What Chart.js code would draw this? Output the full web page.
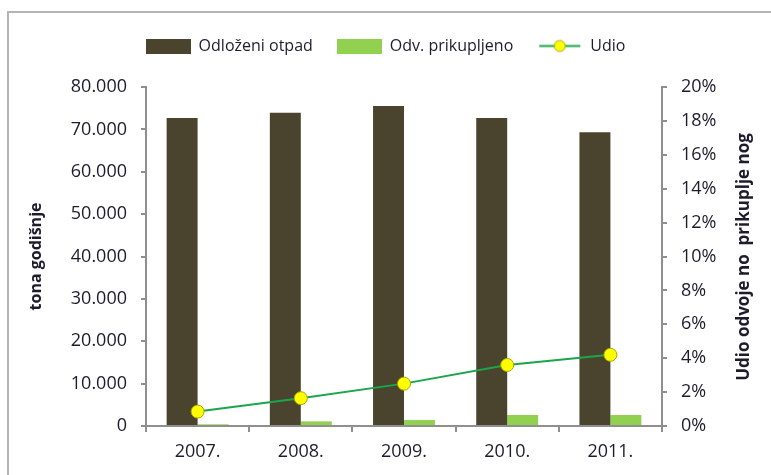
<!DOCTYPE html>
<html>
<head>
<meta charset="utf-8">
<script src="https://cdn.jsdelivr.net/npm/chart.js@4.4.1/dist/chart.umd.min.js"></script>
<style>
  body { margin: 0; background: #fff; }
  canvas { display: block; }
</style>
</head>
<body>
<canvas id="graf" width="771" height="475"></canvas>
<script>
var godine      = ["2007.", "2008.", "2009.", "2010.", "2011."];
var odlozeni    = [72700, 73900, 75500, 72700, 69300];
var prikupljeno = [400, 1100, 1400, 2600, 2600];
var udio        = [0.85, 1.64, 2.5, 3.6, 4.2];

var tamna   = "#4a432d";
var zelena  = "#92d050";
var linija  = "#1aa64a";
var zuta    = "#ffff00";
var tekst   = "#1c1c2c";
var siva    = "#8f8f8f";
var font    = "'Open Sans', sans-serif";

function ikona(crtaj) {
  var c = document.createElement("canvas");
  c.width = 45;
  c.height = 15;
  crtaj(c.getContext("2d"));
  return c;
}

var ikone = [
  ikona(function(ctx) { ctx.fillStyle = tamna; ctx.fillRect(0, 0, 45, 15); }),
  ikona(function(ctx) { ctx.fillStyle = zelena; ctx.fillRect(0, 0, 45, 15); }),
  ikona(function(ctx) {
    ctx.strokeStyle = linija;
    ctx.lineWidth = 2;
    ctx.beginPath(); ctx.moveTo(2, 7.5); ctx.lineTo(43, 7.5); ctx.stroke();
    ctx.fillStyle = zuta;
    ctx.strokeStyle = "#a8a800";
    ctx.lineWidth = 1;
    ctx.beginPath(); ctx.arc(22.5, 7.5, 5.5, 0, Math.PI * 2); ctx.fill(); ctx.stroke();
  })
];

function tisuce(v) {
  if (v === 0) return "0";
  return Math.floor(v / 1000) + ".000";
}

var okvir = {
  id: "okvir",
  beforeDraw: function(chart) {
    var ctx = chart.ctx;
    ctx.save();
    ctx.fillStyle = "#fff";
    ctx.fillRect(0, 0, chart.width, chart.height);
    ctx.strokeStyle = "#b4b4b4";
    ctx.lineWidth = 2;
    ctx.beginPath();
    ctx.moveTo(8, chart.height);
    ctx.lineTo(8, 12);
    ctx.lineTo(chart.width, 12);
    ctx.stroke();
    ctx.restore();
  },
  afterDraw: function(chart) {
    // desni naslov ide odozdo prema gore, kao lijevi
    var ctx = chart.ctx;
    ctx.save();
    ctx.translate(744, 257);
    ctx.rotate(-Math.PI / 2);
    ctx.font = "bold 17px " + font;
    ctx.fillStyle = tekst;
    ctx.textAlign = "center";
    ctx.textBaseline = "middle";
    ctx.fillText("Udio odvoje no  prikuplje nog", 0, 0);
    ctx.restore();
  }
};

var legendaVisina = {
  id: "legendaVisina",
  afterInit: function(chart) {
    var fit = chart.legend.fit;
    chart.legend.fit = function() {
      fit.call(this);
      this.height = 73;
    };
  }
};

new Chart(document.getElementById("graf"), {
  type: "bar",
  data: {
    labels: godine,
    datasets: [
      {
        label: "Odloženi otpad",
        data: odlozeni,
        backgroundColor: tamna,
        yAxisID: "y",
        order: 2,
        categoryPercentage: 0.6,
        barPercentage: 1
      },
      {
        label: "Odv. prikupljeno",
        data: prikupljeno,
        backgroundColor: zelena,
        yAxisID: "y",
        order: 2,
        categoryPercentage: 0.6,
        barPercentage: 1
      },
      {
        label: "Udio",
        type: "line",
        data: udio,
        yAxisID: "y1",
        order: 1,
        borderColor: linija,
        borderWidth: 2,
        pointRadius: 6.5,
        pointBackgroundColor: zuta,
        pointBorderColor: "#a8a800",
        pointBorderWidth: 1
      }
    ]
  },
  options: {
    responsive: false,
    devicePixelRatio: 1,
    animation: false,
    layout: { padding: { top: 14, left: 0, right: 0, bottom: 0 } },
    plugins: {
      tooltip: { enabled: false },
      legend: {
        position: "top",
        labels: {
          usePointStyle: true,
          pointStyleWidth: 45,
          boxHeight: 15,
          padding: 24,
          color: tekst,
          font: { family: font, size: 16 },
          sort: function(a, b) { return a.datasetIndex - b.datasetIndex; },
          generateLabels: function(chart) {
            var stavke = Chart.defaults.plugins.legend.labels.generateLabels(chart);
            stavke.forEach(function(s) { s.pointStyle = ikone[s.datasetIndex]; });
            return stavke;
          }
        }
      }
    },
    scales: {
      x: {
        offset: true,
        grid: { display: true, drawOnChartArea: false, offset: true, tickLength: 6, color: siva, lineWidth: 2 },
        border: { display: true, color: siva, width: 2 },
        ticks: { color: tekst, font: { family: font, size: 18 }, padding: 9 },
        afterFit: function(s) { s.height = 49; }
      },
      y: {
        position: "left",
        min: 0,
        max: 80000,
        ticks: { stepSize: 10000, color: tekst, font: { family: font, size: 18 }, padding: 14, callback: tisuce },
        grid: { display: true, drawOnChartArea: false, tickLength: 5, color: siva, lineWidth: 2 },
        border: { display: true, color: siva, width: 2 },
        title: {
          display: true,
          text: "tona godišnje",
          color: tekst,
          font: { family: font, size: 16, weight: "bold" },
          padding: { top: 27, bottom: 0 }
        },
        afterFit: function(s) { s.width = 146; }
      },
      y1: {
        position: "right",
        min: 0,
        max: 20,
        ticks: { stepSize: 2, color: tekst, font: { family: font, size: 18 }, padding: 14, callback: function(v) { return v + "%"; } },
        grid: { display: true, drawOnChartArea: false, tickLength: 5, color: siva, lineWidth: 2 },
        border: { display: true, color: siva, width: 2 },
        afterFit: function(s) { s.width = 109; }
      }
    }
  },
  plugins: [okvir, legendaVisina]
});
</script>
</body>
</html>
